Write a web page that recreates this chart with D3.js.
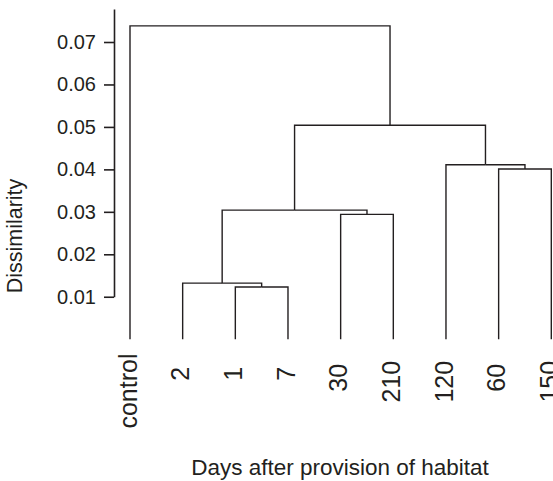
<!DOCTYPE html>
<html>
<head>
<meta charset="utf-8">
<script src="https://cdn.jsdelivr.net/npm/d3@7"></script>
<style>
  body { margin: 0; background: #fff; }
  svg text { font-family: "Liberation Sans", Arial, Helvetica, sans-serif; fill: #231f20; }
</style>
</head>
<body>
<div id="dendro"></div>
<script>
// Leaf labels, in plotting order
var leaves = ["control", "2", "1", "7", "30", "210", "120", "60", "150"];

// Merge steps in R "hclust" style: negative = leaf (1-based), positive = earlier step
var mergeLeft  = [-3, -5, -8, -2, 4, -7, 5, -1];
var mergeRight = [-4, -6, -9,  1, 2,  3, 6,  7];
var mergeHeight = [0.0123, 0.0294, 0.0401, 0.0132, 0.0304, 0.0411, 0.0504, 0.0738];

// Axis ticks
var yTicks = [0.01, 0.02, 0.03, 0.04, 0.05, 0.06, 0.07];
var yAxisTop = 0.0778;

var svgWidth = 553;
var svgHeight = 481;

var svg = d3.select("#dendro")
  .append("svg")
  .attr("width", svgWidth)
  .attr("height", svgHeight);

// Scales
var xScale = d3.scalePoint()
  .domain(leaves)
  .range([130, 551.3]);

var yScale = d3.scaleLinear()
  .domain([0, 0.07])
  .range([339.2, 42]);

// Build a nested tree from the merge steps
function buildNode(ref) {
  if (ref < 0) return { name: leaves[-ref - 1], height: 0 };
  var i = ref - 1;
  return {
    height: mergeHeight[i],
    children: [buildNode(mergeLeft[i]), buildNode(mergeRight[i])]
  };
}
var root = d3.hierarchy(buildNode(mergeHeight.length));

// x of a leaf from the point scale, internal node = midpoint of its two children
root.eachAfter(function(d) {
  if (d.children) {
    d.x = (d.children[0].x + d.children[1].x) / 2;
  } else {
    d.x = xScale(d.data.name);
  }
  d.y = yScale(d.data.height);
});

// Links: horizontal from parent, then down to the child
svg.append("g")
  .selectAll("path")
  .data(root.links())
  .enter()
  .append("path")
  .attr("d", d => `M${d.source.x},${d.source.y}H${d.target.x}V${d.target.y}`)
  .attr("fill", "none")
  .attr("stroke", "#231f20")
  .attr("stroke-width", 1.4);

// Y axis
var axisScale = d3.scaleLinear()
  .domain([0.01, yAxisTop])
  .range([yScale(0.01), yScale(yAxisTop)]);

var leftAxis = d3.axisLeft(axisScale)
  .tickValues(yTicks)
  .tickFormat(d3.format(".2f"))
  .tickSize(10)
  .tickSizeOuter(0)
  .tickPadding(8);

var yAxisG = svg.append("g")
  .attr("transform", "translate(114,0)")
  .call(leftAxis);

yAxisG.selectAll("path, line")
  .attr("stroke", "#231f20")
  .attr("stroke-width", 1.6);
yAxisG.selectAll("text")
  .attr("font-size", 20)
  .attr("font-family", null);

// Leaf labels (rotated, end of text toward the tree)
svg.append("g")
  .selectAll("text")
  .data(root.leaves())
  .enter()
  .append("text")
  .text(d => d.data.name)
  .attr("font-size", 25)
  .attr("text-anchor", "end")
  .attr("dy", "0.27em")
  .attr("transform", function(d) {
    var len = this.getComputedTextLength();
    return `translate(${d.x},${370 - 0.22 * len}) rotate(-90)`;
  });

// Axis labels
svg.append("text")
  .attr("transform", "translate(22,236) rotate(-90)")
  .attr("text-anchor", "middle")
  .attr("font-size", 21.5)
  .text("Dissimilarity");

svg.append("text")
  .attr("x", 340)
  .attr("y", 475)
  .attr("text-anchor", "middle")
  .attr("font-size", 22.5)
  .text("Days after provision of habitat");
</script>
</body>
</html>
